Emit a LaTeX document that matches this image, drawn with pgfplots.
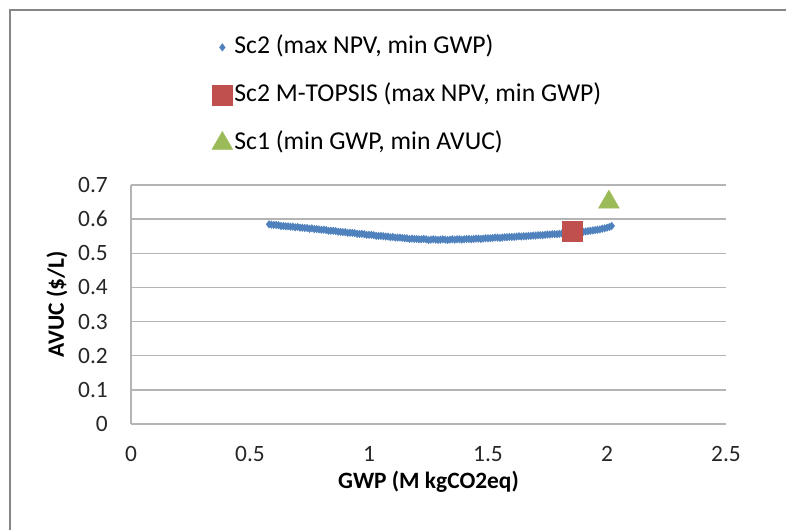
\documentclass[border=0pt]{standalone}
\usepackage{pgfplots}
\pgfplotsset{compat=1.18}
\usepackage{fontspec}
\setmainfont{Carlito}
\definecolor{sblue}{HTML}{4F81BD}
\definecolor{sred}{HTML}{C0504D}
\definecolor{sgreen}{HTML}{9BBB59}
\definecolor{gridgray}{HTML}{B4B4B4}
\definecolor{framegray}{HTML}{868686}
\begin{document}
\begin{tikzpicture}
\useasboundingbox (0,0) rectangle (786bp,530bp);
\draw[framegray, line width=2bp] (10bp,-2bp) -- (10bp,520bp) -- (790bp,520bp);
\begin{axis}[
  at={(131bp,106bp)}, anchor=south west,
  scale only axis, width=595bp, height=239bp,
  xmin=0, xmax=2.5, ymin=0, ymax=0.7,
  axis lines=left,
  axis line style={-, draw=gridgray, line width=1.3bp},
  major tick length=0pt,
  xtick={0,0.5,1,1.5,2,2.5},
  xticklabels={0,0.5,1,1.5,2,2.5},
  ytick={0,0.1,0.2,0.3,0.4,0.5,0.6,0.7},
  yticklabels={0,0.1,0.2,0.3,0.4,0.5,0.6,0.7},
  /pgf/number format/assume math mode=true,
  ymajorgrids,
  grid style={draw=gridgray, line width=1.3bp},
  tick label style={font=\fontsize{23.4bp}{28bp}\selectfont, text=black!85},
  yticklabel style={anchor=east, inner sep=0pt, xshift=-23bp},
  xticklabel style={anchor=north, inner sep=0pt, yshift=-22bp},
  xlabel={\textbf{GWP (M kgCO2eq)}},
  ylabel={\textbf{AVUC (\$/L)}},
  label style={font=\fontsize{23.4bp}{28bp}\selectfont},
  xlabel style={at={(rel axis cs:0.5,0)}, anchor=center, yshift=-58bp, inner sep=0pt},
  ylabel style={at={(axis description cs:-0.1244,0.5)}, anchor=center, inner sep=0pt},
  legend cell align=left,
  legend style={at={(axis description cs:0.128,1.631)}, anchor=north west,
    draw=none, fill=none, column sep=0pt, row sep=26bp,
    font=\fontsize{25.7bp}{30bp}\selectfont,
    nodes={inner sep=0pt, text height=17bp, text depth=5bp}},
  legend image code/.code={
    \path[draw=none, fill=none, use as bounding box] (-12bp,-10bp) rectangle (12bp,10bp);
    \draw[#1] plot coordinates {(0bp,0bp)};
  },
]
\addplot[only marks, mark=diamond*, mark size=3.8bp, color=sblue] coordinates {
(0.58,0.585) (0.59,0.584) (0.60,0.583) (0.61,0.583) (0.62,0.582) (0.63,0.580)
(0.64,0.580) (0.65,0.579) (0.66,0.579) (0.67,0.578) (0.68,0.578) (0.69,0.576)
(0.70,0.577) (0.71,0.575) (0.72,0.575) (0.73,0.574) (0.74,0.574) (0.75,0.572)
(0.76,0.573) (0.77,0.571) (0.78,0.571) (0.79,0.570) (0.80,0.569) (0.81,0.569)
(0.82,0.568) (0.83,0.566) (0.84,0.566) (0.85,0.566) (0.86,0.565) (0.87,0.563)
(0.88,0.563) (0.89,0.562) (0.90,0.562) (0.91,0.560) (0.92,0.560) (0.93,0.560)
(0.94,0.559) (0.95,0.557) (0.96,0.557) (0.97,0.557) (0.98,0.556) (0.99,0.554)
(1.00,0.554) (1.01,0.554) (1.02,0.553) (1.03,0.551) (1.04,0.551) (1.05,0.551)
(1.06,0.550) (1.07,0.549) (1.08,0.549) (1.09,0.547) (1.10,0.548) (1.11,0.546)
(1.12,0.546) (1.13,0.546) (1.14,0.545) (1.15,0.544) (1.16,0.544) (1.17,0.542)
(1.18,0.543) (1.19,0.542) (1.20,0.542) (1.21,0.541) (1.22,0.541) (1.23,0.542)
(1.24,0.541) (1.25,0.539) (1.26,0.540) (1.27,0.541) (1.28,0.540) (1.29,0.539)
(1.30,0.540) (1.31,0.541) (1.32,0.540) (1.33,0.539) (1.34,0.540) (1.35,0.541)
(1.36,0.540) (1.37,0.541) (1.38,0.541) (1.39,0.540) (1.40,0.541) (1.41,0.542)
(1.42,0.542) (1.43,0.541) (1.44,0.542) (1.45,0.543) (1.46,0.543) (1.47,0.542)
(1.48,0.543) (1.49,0.544) (1.50,0.544) (1.51,0.544) (1.52,0.545) (1.53,0.546)
(1.54,0.546) (1.55,0.545) (1.56,0.546) (1.57,0.547) (1.58,0.547) (1.59,0.548)
(1.60,0.548) (1.61,0.548) (1.62,0.549) (1.63,0.550) (1.64,0.549) (1.65,0.550)
(1.66,0.550) (1.67,0.551) (1.68,0.551) (1.69,0.552) (1.70,0.552) (1.71,0.553)
(1.72,0.553) (1.73,0.553) (1.74,0.554) (1.75,0.555) (1.76,0.555) (1.77,0.556)
(1.78,0.556) (1.79,0.556) (1.80,0.557) (1.81,0.558) (1.82,0.558) (1.83,0.559)
(1.84,0.559) (1.85,0.560) (1.86,0.560) (1.87,0.561) (1.88,0.562) (1.89,0.562)
(1.90,0.563) (1.91,0.564) (1.92,0.565) (1.93,0.566) (1.94,0.567) (1.95,0.568)
(1.96,0.569) (1.97,0.570) (1.98,0.572) (1.99,0.573) (2.00,0.575) (2.01,0.577)
(2.02,0.580)
};
\addlegendentry{Sc2 (max NPV, min GWP)}
\addplot[only marks, mark=square*, mark size=10bp, color=sred] coordinates {(1.853,0.564)};
\addlegendentry{Sc2 M-TOPSIS (max NPV, min GWP)}
\addplot[only marks, mark=triangle*, mark size=12bp, color=sgreen] coordinates {(2.008,0.650)};
\addlegendentry{Sc1 (min GWP, min AVUC)}
\end{axis}
\end{tikzpicture}
\end{document}
